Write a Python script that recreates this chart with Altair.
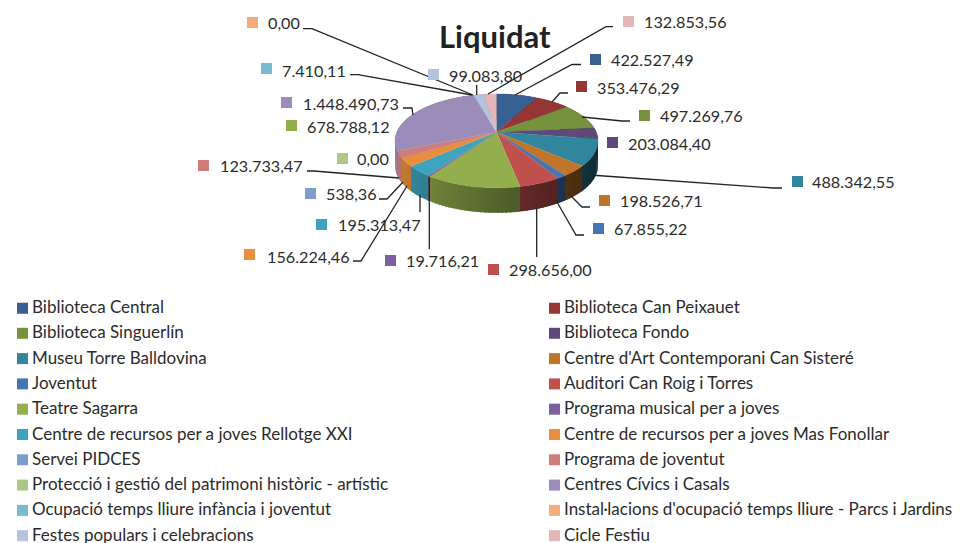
import math
import altair as alt
import pandas as pd

TITLE = "Liquidat"
NAMES = ["Biblioteca Central", "Biblioteca Can Peixauet", "Biblioteca Singuerlín", "Biblioteca Fondo",
         "Museu Torre Balldovina", "Centre d'Art Contemporani Can Sisteré", "Joventut", "Auditori Can Roig i Torres",
         "Teatre Sagarra", "Programa musical per a joves", "Centre de recursos per a joves Rellotge XXI",
         "Centre de recursos per a joves Mas Fonollar", "Servei PIDCES", "Programa de joventut",
         "Protecció i gestió del patrimoni històric - artístic", "Centres Cívics i Casals",
         "Ocupació temps lliure infància i joventut", "Instal·lacions d'ocupació temps lliure - Parcs i Jardins",
         "Festes populars i celebracions", "Cicle Festiu"]
VALUES = [422527.49, 353476.29, 497269.76, 203084.40, 488342.55, 198526.71, 67855.22, 298656.00,
          678788.12, 19716.21, 195313.47, 156224.46, 538.36, 123733.47, 0.00, 1448490.73,
          7410.11, 0.00, 99083.80, 132853.56]
LABELS = ["422.527,49", "353.476,29", "497.269,76", "203.084,40", "488.342,55", "198.526,71", "67.855,22",
          "298.656,00", "678.788,12", "19.716,21", "195.313,47", "156.224,46", "538,36", "123.733,47", "0,00",
          "1.448.490,73", "7.410,11", "0,00", "99.083,80", "132.853,56"]
COLORS = ["#366092", "#963634", "#76923c", "#5f497a", "#31859c", "#c0752b", "#4575b5", "#c0504d",
          "#93ae4c", "#7d5f9f", "#3ea4bd", "#e98e3c", "#7f9ccb", "#cf7c7a", "#adc886", "#9b8cb9",
          "#7abacd", "#f6ab7a", "#b5c2de", "#e3b6b7"]

# Page-pixel layout of the pie and its callouts
CX, CY, A, B, K, DEPTH = 496.5, 132.0, 99.6, 45.2, 0.19, 25.0
MARKER_X = [595.5, 581.5, 644.5, 612.5, 797.5, 604.5, 598.5, 493.5, 291.5, 390.5, 321.5, 249.5, 310.5, 203.5,
            342.5, 286.5, 266.5, 252.5, 433.5, 628.5]
MARKER_Y = [59.5, 86.5, 115.5, 142.5, 181.5, 200.5, 228.5, 269.5, 125.5, 260.5, 224.5, 254.5, 193.5, 165.5,
            158.5, 102.5, 68.5, 22.5, 74.5, 21.5]
TEXT_X = [611, 597, 660, 628, 812, 620, 614, 509, 307, 406, 338, 267, 326, 220, 357, 303, 282, 268, 449, 644]
TEXT_Y = [61, 89, 117, 145, 183, 202, 230, 271, 128, 262, 226, 258, 195, 167, 160, 105, 72, 24, 77, 23]
LEADERS = [
    [(581, 64.5), (572, 64.5), (515, 95)],
    [(568, 93), (560, 93), (552, 102)],
    [(630, 121), (622, 121), (582, 117)],
    [(782, 188), (773, 188), (590, 175)],
    [(590, 207), (582, 207), (571, 196)],
    [(584, 235), (576, 235), (557, 202)],
    [(536.7, 257), (536.7, 208)],
    [(429.3, 249), (429.3, 178)],
    [(420, 212), (420, 195)],
    [(353, 261), (361, 261), (407, 186)],
    [(379, 199), (387, 199), (403, 182)],
    [(307, 171), (314, 171), (399, 178)],
    [(403, 108), (412, 108), (413, 115)],
    [(350, 74.7), (358, 74.7), (472, 95)],
    [(303, 28.7), (312, 28.7), (473, 95)],
    [(476.7, 85), (476.7, 95)],
    [(613, 26.7), (606, 26.7), (488, 94)],
]


def project(theta):
    u, v = math.sin(theta), math.cos(theta)
    w = 1 + K * v
    return CX + A * u / w, CY - B * v / w


def shaded(hex_color, f):
    r, g, b = (int(hex_color[i:i + 2], 16) for i in (1, 3, 5))
    return "#%02x%02x%02x" % (int(r * f), int(g * f), int(b * f))


total = sum(VALUES)
top_rows, wall_rows = [], []
start = 0.0
seg = 0
for name, value, color in zip(NAMES, VALUES, COLORS):
    sweep = value / total * 2 * math.pi
    steps = max(2, int(sweep / math.radians(2)) + 1)
    angles = [start + sweep * i / steps for i in range(steps + 1)]
    pts = [project(t) for t in angles]
    top = [(CX, CY)] + pts
    for i, (x, y) in enumerate(top):
        top_rows.append({"name": name, "x": x, "y": y, "i": i})
    for j, (p, q) in enumerate(zip(pts[:-1], pts[1:])):
        t = min(1, max(0, ((p[0] + q[0]) / 2 - 394) / 203))
        fill = shaded(color, 0.90 - 0.55 * t ** 0.8)
        # each quad reaches slightly past its end so no seam shows between neighbours
        qa = project(angles[j + 1] + sweep / steps * 0.6)
        quad = [(p[0], p[1]), (qa[0], qa[1]), (qa[0], qa[1] + DEPTH), (p[0], p[1] + DEPTH)]
        for i, (x, y) in enumerate(quad):
            wall_rows.append({"seg": f"{seg:04d}", "col": fill, "x": x, "y": y, "i": i})
        seg += 1
    start += sweep

leader_rows = []
for k, path in enumerate(LEADERS):
    for i, (x, y) in enumerate(path):
        leader_rows.append({"k": k, "x": x, "y": y, "i": i})

label_df = pd.DataFrame({"name": NAMES, "label": LABELS, "mx": MARKER_X, "my": MARKER_Y, "tx": TEXT_X, "ty": TEXT_Y})

FONT = "Lato"
xs = alt.Scale(domain=[8, 956], range=[0, 948])
ys = alt.Scale(domain=[8, 543], range=[0, 535])
X = alt.X("x:Q", scale=xs, axis=None)
Y = alt.Y("y:Q", scale=ys, axis=None)

color_scale = alt.Scale(domain=NAMES, range=COLORS)
legend = alt.Legend(orient="none", legendX=6, legendY=291.5, columns=2, direction="horizontal", title=None,
                    symbolType="square", symbolSize=121, symbolStrokeWidth=0, labelFont=FONT, labelFontSize=17,
                    labelColor="#2b2b2b", labelLimit=500, labelOffset=1, rowPadding=7.3, columnPadding=157,
                    gridAlign="each", symbolOpacity=1)

walls = alt.Chart(pd.DataFrame(wall_rows)).mark_line(strokeWidth=0).encode(
    x=X, y=Y, order="i:Q", detail="seg:N",
    fill=alt.Fill("col:N", scale=None))
tops = alt.Chart(pd.DataFrame(top_rows)).mark_line(strokeWidth=0.4).encode(
    x=X, y=Y, order="i:Q",
    fill=alt.Fill("name:N", scale=color_scale, legend=legend),
    stroke=alt.Stroke("name:N", scale=color_scale, legend=None))
leaders = alt.Chart(pd.DataFrame(leader_rows)).mark_line(color="#222222", strokeWidth=1.3).encode(
    x=X, y=Y, order="i:Q", detail="k:N")
markers = alt.Chart(label_df).mark_square(size=121, opacity=1).encode(
    x=alt.X("mx:Q", scale=xs, axis=None), y=alt.Y("my:Q", scale=ys, axis=None),
    fill=alt.Fill("name:N", scale=color_scale, legend=None))
texts = alt.Chart(label_df).mark_text(font=FONT, fontSize=16.2, align="left", baseline="middle", color="#2b2b2b").encode(
    x=alt.X("tx:Q", scale=xs, axis=None), y=alt.Y("ty:Q", scale=ys, axis=None), text="label:N")

chart = alt.layer(walls, tops, leaders, markers, texts).resolve_scale(fill="independent", stroke="independent").properties(
    width=948, height=535, padding=0, autosize=alt.AutoSizeParams(type="none"), background="white",
    title=alt.Title(TITLE, font=FONT, fontSize=31, fontWeight="bold", color="#222222", anchor="start",
                    frame="group", dx=431, offset=-47),
).configure_view(stroke=None)

chart.save("out.html", embed_options={"renderer": "svg", "actions": False})
